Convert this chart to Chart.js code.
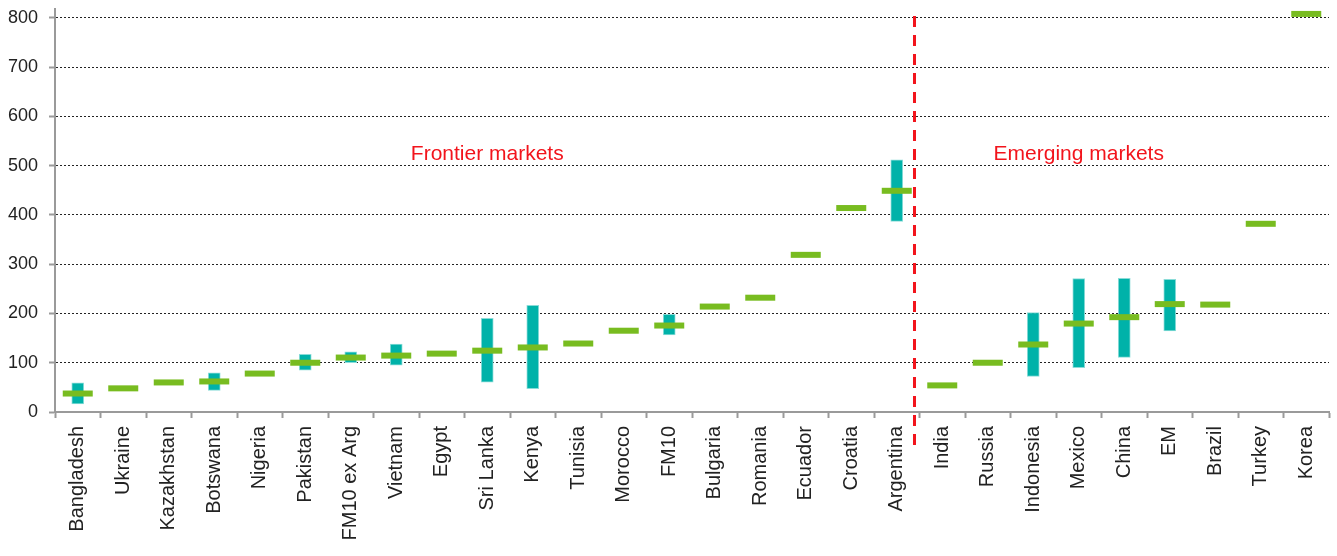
<!DOCTYPE html>
<html>
<head>
<meta charset="utf-8">
<script src="https://cdn.jsdelivr.net/npm/chart.js@4/dist/chart.umd.min.js"></script>
<style>
  html, body { margin: 0; padding: 0; background: #ffffff; }
  #wrap { width: 1337px; height: 556px; position: relative; }
</style>
</head>
<body>
<div id="wrap"><canvas id="c" width="1337" height="556"></canvas></div>
<script>
const categories = ["Bangladesh","Ukraine","Kazakhstan","Botswana","Nigeria","Pakistan","FM10 ex Arg","Vietnam","Egypt","Sri Lanka","Kenya","Tunisia","Morocco","FM10","Bulgaria","Romania","Ecuador","Croatia","Argentina","India","Russia","Indonesia","Mexico","China","EM","Brazil","Turkey","Korea"];
const midValues = [37.5, 48, 60, 62, 78, 100, 110.5, 114.5, 118.5, 124.5, 131, 139, 165, 175.5, 214, 232, 319, 414, 449, 54, 100, 137, 179.5, 192.5, 219, 218, 382, 808];
const rangeLow  = [16.5, null, null, 44, null, 85, 100, 95, null, 60.5, 47.5, null, null, 156.5, null, null, null, null, 387, null, null, 72, 90, 111, 164.5, null, null, null];
const rangeHigh = [59, null, null, 79.5, null, 117, 122, 138, null, 190, 216.5, null, null, 198, null, null, null, null, 512, null, null, 202, 271, 271.5, 269.5, null, null, null];
const yTickValues = [0, 100, 200, 300, 400, 500, 600, 700, 800];
const yMax = 818;
const groupLabels = ["Frontier markets", "Emerging markets"];
const groupLabelCategory = [9, 22];
const groupLabelValue = 523;
const dividerPosition = 18.39;

const rangeData = rangeLow.map((lo, i) => (lo === null ? null : [lo, rangeHigh[i]]));

const FONT = "'Liberation Sans', Arial, sans-serif";

const annotationPlugin = {
  id: 'annot',
  afterDatasetsDraw(chart) {
    const ctx = chart.ctx;
    const xs = chart.scales.x, ys = chart.scales.y;
    const area = chart.chartArea;
    const p0 = xs.getPixelForValue(Math.floor(dividerPosition));
    const p1 = xs.getPixelForValue(Math.floor(dividerPosition) + 1);
    const dx = p0 + (p1 - p0) * (dividerPosition - Math.floor(dividerPosition));
    ctx.save();
    ctx.strokeStyle = '#f2141c';
    ctx.lineWidth = 3;
    ctx.setLineDash([11, 8]);
    ctx.beginPath();
    ctx.moveTo(dx, area.top + 7);
    ctx.lineTo(dx, area.bottom + 36);
    ctx.stroke();
    ctx.setLineDash([]);
    ctx.fillStyle = '#f2141c';
    ctx.font = "21px " + FONT;
    ctx.textAlign = 'center';
    ctx.textBaseline = 'middle';
    groupLabels.forEach((t, i) => {
      ctx.fillText(t, xs.getPixelForValue(groupLabelCategory[i]), ys.getPixelForValue(groupLabelValue));
    });
    ctx.restore();
  }
};

new Chart(document.getElementById('c'), {
  type: 'bar',
  data: {
    labels: categories,
    datasets: [
      {
        type: 'line',
        label: 'Median',
        data: midValues,
        showLine: false,
        pointStyle: 'line',
        pointRadius: 15,
        pointHoverRadius: 15,
        pointBorderWidth: 6,
        pointHoverBorderWidth: 6,
        borderColor: '#78bc20',
        backgroundColor: '#78bc20',
        order: 0,
        clip: false
      },
      {
        type: 'bar',
        label: 'Range',
        data: rangeData,
        backgroundColor: '#00b2a9',
        borderColor: '#8adcd8',
        borderWidth: 1,
        borderSkipped: false,
        barThickness: 12,
        order: 1
      }
    ]
  },
  options: {
    responsive: false,
    animation: false,
    events: [],
    layout: { autoPadding: false, padding: { top: 9, right: 8, left: 0, bottom: 0 } },
    plugins: { legend: { display: false }, tooltip: { enabled: false } },
    scales: {
      x: {
        offset: true,
        grid: {
          display: true,
          offset: true,
          drawOnChartArea: false,
          drawTicks: true,
          tickLength: 6,
          tickColor: '#9a9a9a',
          tickWidth: 2
        },
        border: { display: true, color: '#9a9a9a', width: 2 },
        ticks: {
          minRotation: 90,
          maxRotation: 90,
          autoSkip: false,
          padding: 8,
          color: '#222',
          font: { family: FONT, size: 20 }
        },
        afterFit(scale) {
          scale.height = 144;
          scale.paddingLeft = 0;
          scale.paddingRight = 0;
        }
      },
      y: {
        min: 0,
        max: yMax,
        afterBuildTicks(scale) { scale.ticks = yTickValues.map(v => ({ value: v })); },
        grid: {
          color: '#222',
          lineWidth: 1,
          tickLength: 6,
          tickColor: '#9a9a9a',
          tickWidth: 2,
          tickBorderDash: []
        },
        border: { display: true, color: '#9a9a9a', width: 2, dash: [2, 2] },
        ticks: {
          padding: 11,
          color: '#222',
          font: { family: FONT, size: 18 }
        },
        afterFit(scale) {
          scale.width = 55;
          scale.paddingTop = 0;
          scale.paddingBottom = 0;
        }
      }
    }
  },
  plugins: [annotationPlugin]
});
</script>
</body>
</html>
